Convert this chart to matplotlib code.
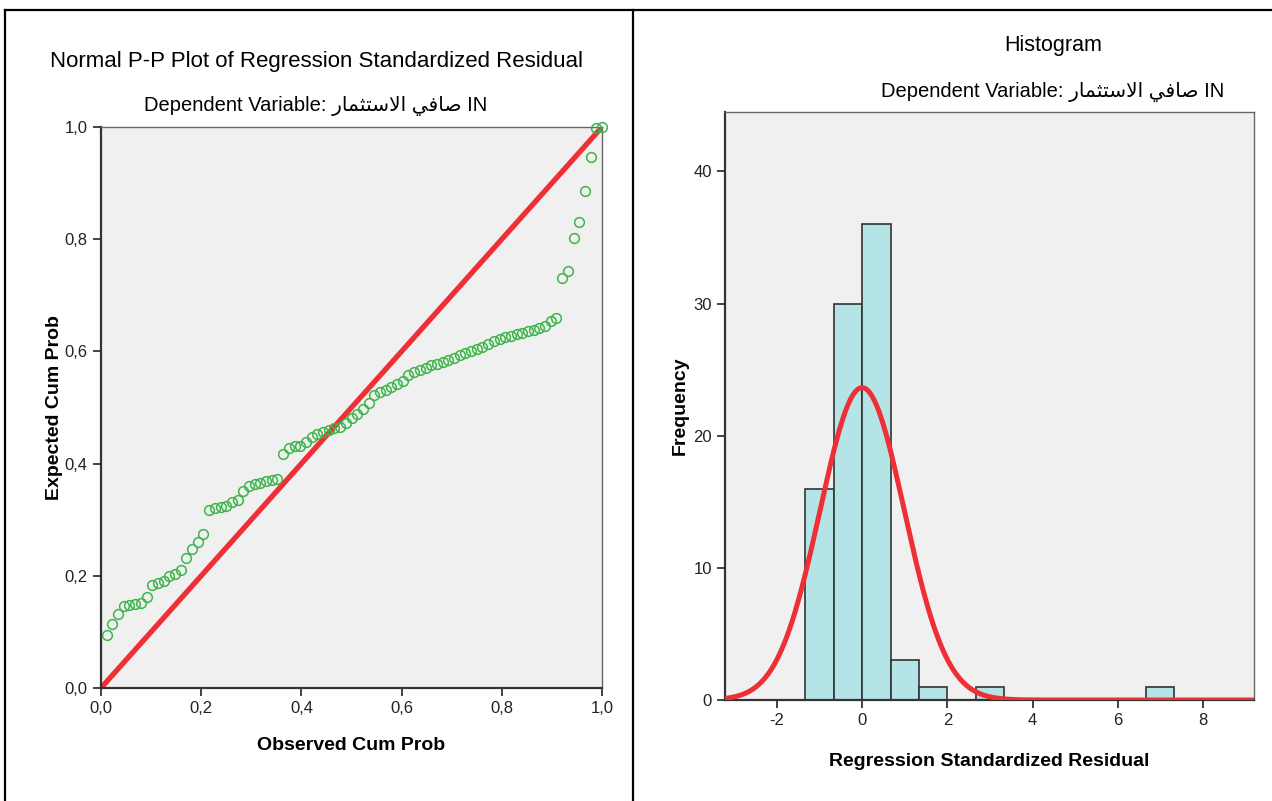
import numpy as np
import matplotlib
matplotlib.use("Agg")
from matplotlib import pyplot as plt
from matplotlib.lines import Line2D

plt.rcParams['font.family'] = ['Liberation Sans', 'DejaVu Sans']
plt.rcParams['axes.unicode_minus'] = False

# P-P plot: expected cumulative probability of each ranked residual
expected_cum = [
    0.094, 0.114, 0.132, 0.146, 0.148, 0.150, 0.152, 0.162, 0.184, 0.187,
    0.190, 0.200, 0.203, 0.210, 0.231, 0.248, 0.260, 0.274,
    0.318, 0.320, 0.322, 0.324, 0.331, 0.336, 0.352, 0.360, 0.363, 0.366,
    0.369, 0.371, 0.373,
    0.418, 0.428, 0.431, 0.432, 0.438, 0.448, 0.452, 0.456, 0.460, 0.463,
    0.465, 0.472, 0.482, 0.489, 0.498, 0.508, 0.523, 0.527, 0.532, 0.537,
    0.541, 0.548, 0.558, 0.564, 0.567, 0.571, 0.575, 0.578, 0.581, 0.584,
    0.589, 0.594, 0.598, 0.601, 0.604, 0.608, 0.613, 0.618, 0.622, 0.625,
    0.628, 0.631, 0.633, 0.636, 0.638, 0.641, 0.646, 0.655, 0.659,
    0.731, 0.743, 0.802, 0.831, 0.886, 0.946, 0.998, 1.000,
]
n_obs = len(expected_cum)
observed_cum = np.arange(1, n_obs + 1) / n_obs   # rank / N

# histogram of standardized residuals
bin_left = [-4/3, -2/3, 0.0, 2/3, 4/3, 8/3, 20/3]
bin_counts = [16, 30, 36, 3, 1, 1, 1]
bin_width = 2/3
resid_mean = 0.0
resid_sd = 0.99

# Arabic shaped by hand (presentation forms, visual order)
dep_var = "Dependent Variable: \uFEAD\uFE8E\uFEE4\uFE9C\uFE98\uFEB3\uFEFB\uFE8D \uFEF2\uFED3\uFE8E\uFEBB IN"

GREEN = '#3db54a'
RED = '#ee2f35'
BAR = '#b4e4e6'
BG = '#f0f0f0'

fig = plt.figure(figsize=(12.72, 8.01), dpi=100)

def style_axes(ax):
    ax.set_facecolor(BG)
    for s in ['left', 'bottom']:
        ax.spines[s].set_color('#333333')
        ax.spines[s].set_linewidth(1.6)
    for s in ['top', 'right']:
        ax.spines[s].set_color('#666666')
        ax.spines[s].set_linewidth(1.0)
    ax.tick_params(direction='out', length=6, width=1.3, color='#333333',
                   labelsize=12, labelcolor='#222222')

#left panel - P-P plot
ax1 = fig.add_axes([101/1272, 1 - 688/801, 501/1272, 561/801])
style_axes(ax1)
ax1.plot([0, 1], [0, 1], color=RED, lw=3.8, zorder=2)
ax1.plot(observed_cum, expected_cum, 'o', mfc='none', mec=GREEN, ms=7, mew=1.1,
         zorder=3, clip_on=False)
ax1.set_xlim(0, 1)
ax1.set_ylim(0, 1)
ticks = [0, 0.2, 0.4, 0.6, 0.8, 1.0]
ax1.set_xticks(ticks)
ax1.set_yticks(ticks)
ax1.set_xticklabels([f"{t:.1f}".replace('.', ',') for t in ticks])
ax1.set_yticklabels([f"{t:.1f}".replace('.', ',') for t in ticks])
ax1.set_xlabel("Observed Cum Prob", fontsize=14, fontweight='bold', labelpad=15)
ax1.set_ylabel("Expected Cum Prob", fontsize=14, fontweight='bold', labelpad=1)

fig.text(316/1272, 1 - 62/801, "Normal P-P Plot of Regression Standardized Residual",
         ha='center', va='center', fontsize=16)
fig.text(316/1272, 1 - 106/801, dep_var, ha='center', va='center', fontsize=14.5)

#right panel - histogram
ax2 = fig.add_axes([725/1272, 1 - 700/801, 529/1272, 588/801])
style_axes(ax2)
ax2.bar(bin_left, bin_counts, width=bin_width, align='edge', color=BAR,
        edgecolor='#333333', linewidth=1.2, zorder=2)
xs = np.linspace(-3.3, 9.3, 600)
curve = n_obs * bin_width * np.exp(-0.5 * ((xs - resid_mean) / resid_sd) ** 2) / (resid_sd * np.sqrt(2 * np.pi))
ax2.plot(xs, curve, color=RED, lw=3.6, zorder=3)
ax2.set_xlim(-3.22, 9.2)
ax2.set_ylim(0, 44.5)
ax2.set_xticks([-2, 0, 2, 4, 6, 8])
ax2.set_yticks([0, 10, 20, 30, 40])
ax2.set_xlabel("Regression Standardized Residual", fontsize=14, fontweight='bold', labelpad=18)
ax2.set_ylabel("Frequency", fontsize=14, fontweight='bold', labelpad=3)

fig.text(1053/1272, 1 - 45/801, "Histogram", ha='center', va='center', fontsize=15.5)
fig.text(1053/1272, 1 - 92/801, dep_var, ha='center', va='center', fontsize=14.5)

# table borders
fig.add_artist(Line2D([5/1272, 1], [1 - 10/801, 1 - 10/801], color='black', lw=1.6))
fig.add_artist(Line2D([5/1272, 5/1272], [0, 1 - 10/801], color='black', lw=1.6))
fig.add_artist(Line2D([633/1272, 633/1272], [0, 1 - 10/801], color='black', lw=1.6))

fig.savefig("out.png", dpi=100)
